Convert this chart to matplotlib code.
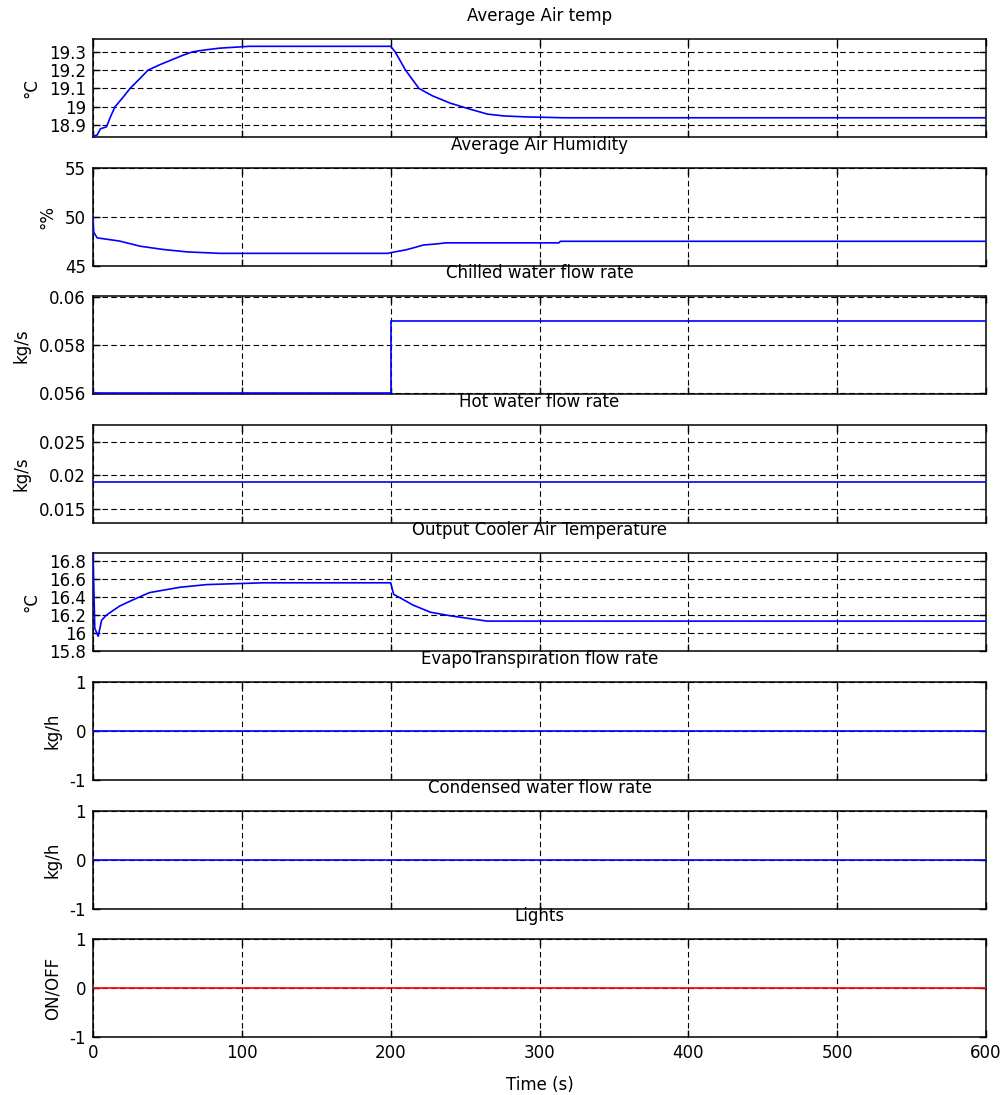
import matplotlib
matplotlib.use('AGG')

import matplotlib.pyplot as plt
from matplotlib.ticker import FormatStrFormatter

plt.rcParams['font.family'] = ['DejaVu Sans']
plt.rcParams['font.size'] = 12

# --- data ---
time_labels = [0, 100, 200, 300, 400, 500, 600]

air_temp_t = [0, 2.7, 5, 9, 12, 14.8, 20, 24.9, 31, 37, 45, 54, 60, 67, 75,
              85, 95, 105, 200, 203, 210, 219, 228, 240, 252, 265, 276, 290,
              316, 600]
air_temp = [18.84, 18.845, 18.88, 18.89, 18.95, 19.0, 19.05, 19.1, 19.15,
            19.2, 19.23, 19.26, 19.28, 19.30, 19.31, 19.32, 19.325, 19.33,
            19.33, 19.3, 19.2, 19.1, 19.06, 19.02, 18.99, 18.96, 18.95,
            18.945, 18.94, 18.94]

humidity_t = [0, 0.5, 2.8, 18, 31.6, 47, 63, 85, 198, 204.5, 210, 215, 222,
              230, 237, 313, 314, 600]
humidity = [50, 48.4, 47.83, 47.5, 46.98, 46.65, 46.4, 46.25, 46.25, 46.45,
            46.6, 46.8, 47.1, 47.2, 47.32, 47.32, 47.48, 47.48]

chilled_t = [0, 200, 200, 600]
chilled = [0.056, 0.056, 0.059, 0.059]

hot_t = [0, 600]
hot = [0.019, 0.019]

cooler_t = [0, 0.3, 1.2, 3.5, 5.8, 9.2, 18, 27, 38, 58.5, 76.5, 114.6, 200,
            202, 206.5, 215, 226.7, 240, 264.8, 600]
cooler = [16.88, 16.69, 16.05, 15.96, 16.14, 16.2, 16.3, 16.37, 16.45, 16.51,
          16.54, 16.56, 16.56, 16.43, 16.39, 16.31, 16.23, 16.19, 16.13, 16.13]

evapo_t = [0, 600]
evapo = [0, 0]
condensed_t = [0, 600]
condensed = [0, 0]
lights_t = [0, 600]
lights = [0, 0]

panels = [
    ("Average Air temp", "°C", air_temp_t, air_temp, 'b',
     [18.9, 19.0, 19.1, 19.2, 19.3], (18.835, 19.37)),
    ("Average Air Humidity", "°%", humidity_t, humidity, 'b',
     [45, 50, 55], (45, 55)),
    ("Chilled water flow rate", "kg/s", chilled_t, chilled, 'b',
     [0.056, 0.058, 0.06], (0.05595, 0.06005)),
    ("Hot water flow rate", "kg/s", hot_t, hot, 'b',
     [0.015, 0.02, 0.025], (0.013, 0.0275)),
    ("Output Cooler Air Temperature", "°C", cooler_t, cooler, 'b',
     [15.8, 16.0, 16.2, 16.4, 16.6, 16.8], (15.79, 16.89)),
    ("EvapoTranspiration flow rate", "kg/h", evapo_t, evapo, 'b',
     [-1, 0, 1], (-1, 1)),
    ("Condensed water flow rate", "kg/h", condensed_t, condensed, 'b',
     [-1, 0, 1], (-1, 1)),
    ("Lights", "ON/OFF", lights_t, lights, 'r',
     [-1, 0, 1], (-1, 1)),
]

W, H = 1005, 1095
fig = plt.figure(figsize=(W / 100, H / 100), dpi=100)

left, right = 93, 986
top0, step, height = 39, 128.6, 98

for i, (title, ylab, t, v, col, yt, yl) in enumerate(panels):
    top = top0 + i * step
    ax = fig.add_axes([left / W, 1 - (top + height) / H,
                       (right - left) / W, height / H])
    ax.plot(t, v, color=col, lw=1.2, zorder=3)
    ax.set_xlim(0, 600)
    ax.set_ylim(*yl)
    ax.set_xticks(time_labels)
    ax.set_yticks(yt)
    ax.yaxis.set_major_formatter(FormatStrFormatter('%g'))
    ax.grid(True, color='k', linestyle=(0, (5, 3)), linewidth=0.8)
    ax.tick_params(direction='in', top=True, right=True, length=5,
                   width=1, labelsize=12, pad=5)
    for s in ax.spines.values():
        s.set_linewidth(1.1)
    ax.set_title(title, fontsize=12, pad=13)
    ax.set_ylabel(ylab, fontsize=12, labelpad=6)
    if i < len(panels) - 1:
        ax.set_xticklabels([])
    else:
        ax.set_xlabel("Time (s)", fontsize=12, labelpad=10)

fig.savefig("out.png", dpi=100)
